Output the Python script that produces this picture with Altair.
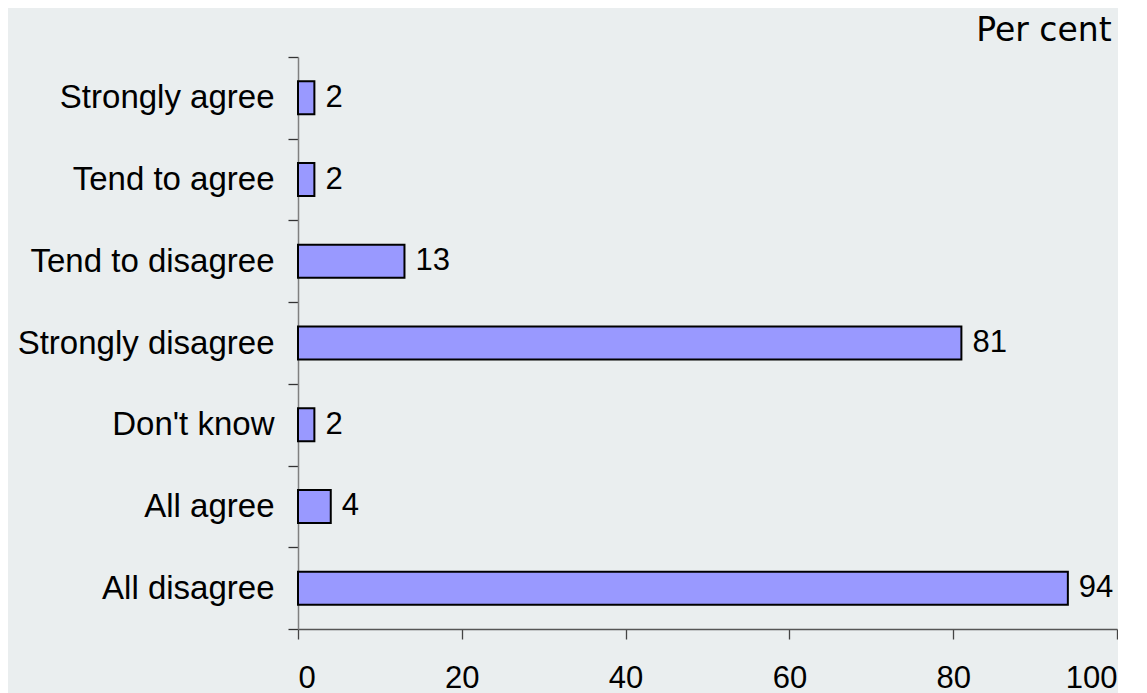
import altair as alt
import pandas as pd

categories = ["Strongly agree", "Tend to agree", "Tend to disagree", "Strongly disagree",
              "Don't know", "All agree", "All disagree"]
values = [2, 2, 13, 81, 2, 4, 94]
x_ticks = [0, 20, 40, 60, 80, 100]

df = pd.DataFrame({"category": categories, "value": values})

FONT = "Liberation Sans"

y_enc = alt.Y("category:N", sort=categories,
              scale=alt.Scale(paddingInner=0, paddingOuter=0),
              axis=alt.Axis(title=None, tickBand="extent", labelFont=FONT, labelFontSize=33,
                            labelColor="#000000", labelPadding=14, tickSize=10,
                            tickColor="#333333", domainColor="#808080", domainWidth=1.5,
                            tickWidth=1.3, minExtent=290, maxExtent=290, labelLimit=400))
x_enc = alt.X("value:Q", scale=alt.Scale(domain=[0, 100], nice=False),
              axis=alt.Axis(title=None, values=x_ticks, grid=False, labelFont=FONT,
                            labelFontSize=31, labelColor="#000000", labelPadding=24,
                            tickSize=10, tickColor="#444444", domainColor="#555555",
                            domainWidth=1.3, tickWidth=1.3))

bars = alt.Chart(df).mark_bar(color="#9999ff", stroke="#000000", strokeWidth=2, size=33).encode(
    x=x_enc, y=y_enc)

labels = alt.Chart(df).mark_text(align="left", baseline="middle", dx=11, font=FONT,
                                 fontSize=31, color="#000000").encode(
    x="value:Q", y=alt.Y("category:N", sort=categories), text="value:Q")

chart = (bars + labels).properties(
    width=819, height=572,
    background="#eaeeef",
    padding={"left": 0, "right": 0, "top": 7, "bottom": 0},
    title=alt.TitleParams("Per cent", anchor="end", font="DejaVu Sans", fontSize=33,
                          fontWeight="normal", color="#000000", offset=-7, dx=-6),
).configure_view(stroke=None)

chart.save("out.html", embed_options={"renderer": "svg", "actions": False})
